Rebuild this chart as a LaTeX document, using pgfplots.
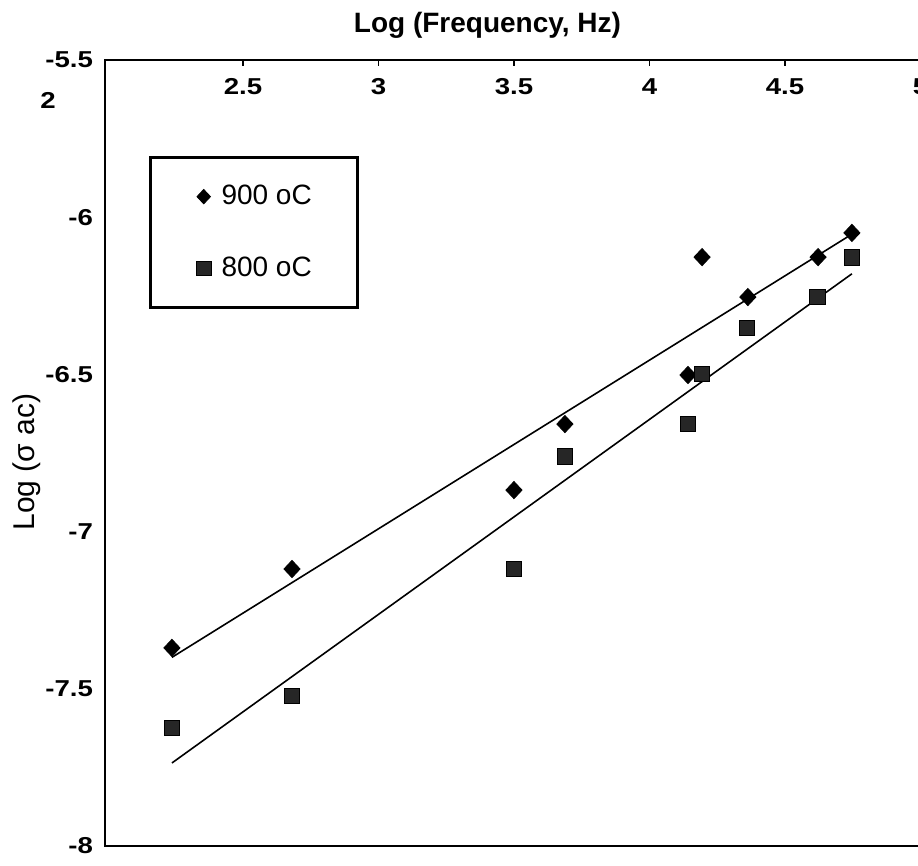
\documentclass[border=0pt]{standalone}
\usepackage{pgfplots}
\pgfplotsset{compat=1.18}
\usepackage{fontspec}
\setmainfont{Liberation Sans}
\newfontfamily\tickfont[FakeStretch=1.2]{Liberation Sans Bold}
\begin{document}
\begin{tikzpicture}
\begin{axis}[
  name=ax,
  scale only axis,
  width=407.75pt, height=393pt,
  xmin=1.991, xmax=5, ymin=-8, ymax=-5.5,
  xtick={2.5,3,3.5,4,4.5,5},
  xticklabels={2.5,3,3.5,4,4.5,5},
  ytick={-8,-7.5,-7,-6.5,-6,-5.5},
  yticklabels={-8,-7.5,-7,-6.5,-6,-5.5},
  xtick pos=right, xticklabel pos=right,
  ytick pos=left,
  tick align=inside,
  major tick length=3pt,
  x tick style={black, line width=0.6pt},
  y tick style={draw=none},
  axis line style={line width=1.3pt},
  tick label style={font=\tickfont\fontsize{11.5}{13}\selectfont},
  xticklabel style={anchor=base, yshift=-17.5pt},
  yticklabel style={anchor=east, xshift=-2.5pt},
  xlabel={Log (Frequency, Hz)},
  xlabel style={at={(axis description cs:0.469,1)}, anchor=base, yshift=13.5pt,
    font=\bfseries\fontsize{14}{16}\selectfont},
  ylabel={Log (σ ac)},
  ylabel style={at={(axis description cs:-0.0957,0.4885)}, anchor=center,
    font=\fontsize{15}{17}\selectfont},
  legend style={at={(axis description cs:0.054,0.878)}, anchor=north west,
    draw=black, line width=1.5pt, font=\fontsize{14}{16}\selectfont,
    nodes={inner sep=0pt}, row sep=24.5pt, column sep=5.3pt,
    inner xsep=23pt, inner ysep=14pt},
  legend cell align=left,
  legend image code/.code={\draw[#1, mark size=3.6pt, line width=0.4pt] plot coordinates {(0pt,0pt)};},
]
\addplot[only marks, mark=diamond*, mark size=4.3pt, mark options={xscale=1.25, fill=black, draw=black}]
coordinates {(2.238,-7.370) (2.681,-7.119) (3.500,-6.868) (3.688,-6.658) (4.142,-6.502)
 (4.194,-6.127) (4.363,-6.254) (4.622,-6.127) (4.747,-6.050)};
\addlegendentry{900 oC}
\addplot[only marks, mark=square*, mark size=3.9pt, mark options={fill=black!85, draw=black}]
coordinates {(2.238,-7.625) (2.681,-7.523) (3.500,-7.119) (3.688,-6.760) (4.142,-6.658)
 (4.194,-6.499) (4.360,-6.352) (4.619,-6.254) (4.747,-6.127)};
\addlegendentry{800 oC}
\addplot[black, line width=0.8pt, forget plot] coordinates {(2.238,-7.400) (4.747,-6.054)};
\addplot[black, line width=0.8pt, forget plot] coordinates {(2.238,-7.736) (4.747,-6.180)};
\end{axis}
\node[font=\tickfont\fontsize{11.5}{13}\selectfont] at ([xshift=-28.5pt, yshift=-20pt]ax.north west) {2};
\pgfresetboundingbox
\path[use as bounding box] ([xshift=-52.5pt, yshift=-10pt]ax.south west) rectangle ([xshift=406.5pt, yshift=30pt]ax.north west);
\end{tikzpicture}
\end{document}
